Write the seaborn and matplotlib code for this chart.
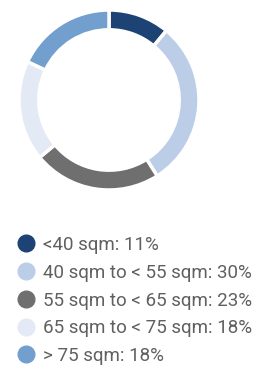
import matplotlib
matplotlib.use('Agg')
import matplotlib.pyplot as plt
import seaborn as sns
from matplotlib.lines import Line2D

categories = ['<40 sqm', '40 sqm to < 55 sqm', '55 sqm to < 65 sqm',
              '65 sqm to < 75 sqm', '> 75 sqm']
shares = [11, 30, 23, 18, 18]
colors = ['#1d4274', '#bccde7', '#6f6f6f', '#e3e9f5', '#739fcf']

sns.set_theme(style='white')
plt.rcParams['font.family'] = ['Roboto', 'DejaVu Sans']

fig = plt.figure(figsize=(2.68, 3.69), dpi=100)
ax = fig.add_axes([19 / 268, 1 - 190 / 369, 180 / 268, 180 / 369])
ax.pie(shares, colors=colors, startangle=90, counterclock=False,
       radius=1.0, wedgeprops=dict(width=0.22, edgecolor='white', linewidth=2.5))
ax.set_xlim(-1, 1)
ax.set_ylim(-1, 1)
ax.set_aspect('equal')
ax.axis('off')

handles = [Line2D([0], [0], marker='o', linestyle='none', markersize=12,
                  markerfacecolor=c, markeredgecolor=c) for c in colors]
labels = [f'{c}: {v}%' for c, v in zip(categories, shares)]
fig.legend(handles, labels, loc='upper left', bbox_to_anchor=(18 / 268, 1 - 236 / 369),
           frameon=False, labelcolor='#606060', handlelength=0.85,
           handletextpad=0.5, labelspacing=0.52, borderpad=0, borderaxespad=0,
           prop={'size': 13.5})

fig.savefig('out.png', dpi=100)
